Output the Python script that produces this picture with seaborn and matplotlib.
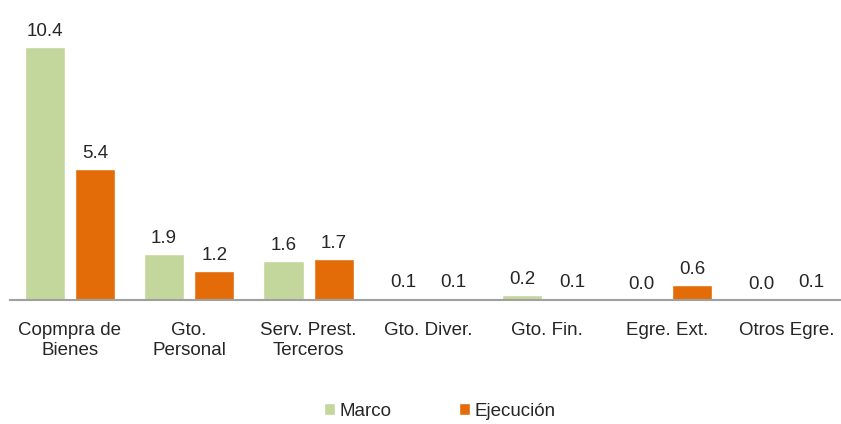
import pandas as pd
import matplotlib
matplotlib.use("Agg")
import matplotlib.pyplot as plt
import seaborn as sns

# data
categorias = ["Copmpra de\nBienes", "Gto.\nPersonal", "Serv. Prest.\nTerceros",
              "Gto. Diver.", "Gto. Fin.", "Egre. Ext.", "Otros Egre."]
marco = [10.4, 1.9, 1.6, 0.1, 0.2, 0.0, 0.0]
ejecucion = [5.4, 1.2, 1.7, 0.1, 0.1, 0.6, 0.1]
series = ["Marco", "Ejecución"]
colores = ["#C3D69B", "#E36C09"]

df = pd.DataFrame({
    "cat": categorias * 2,
    "serie": [series[0]] * len(marco) + [series[1]] * len(ejecucion),
    "valor": marco + ejecucion,
})

sns.set_style("white")
plt.rcParams["font.family"] = ["Liberation Sans", "DejaVu Sans"]

fig = plt.figure(figsize=(8.41, 4.24), dpi=100)
ax = fig.add_axes([10 / 841, 124 / 424, 836 / 841, 300 / 424])

sns.barplot(data=df, x="cat", y="valor", hue="serie", palette=colores,
            width=0.84, gap=0.2, saturation=1, ax=ax, legend=True)

for cont in ax.containers:
    ax.bar_label(cont, fmt="%.1f", padding=5, fontsize=13.5, color="#262626")

ax.set_xlim(-0.5, 6.5)
ax.set_ylim(0, 12.33)
ax.set_yticks([])
ax.set_xlabel("")
ax.set_ylabel("")
for s in ["top", "left", "right"]:
    ax.spines[s].set_visible(False)
ax.spines["bottom"].set_color("#A0A0A0")
ax.spines["bottom"].set_linewidth(1.5)
ax.tick_params(axis="x", length=0, pad=16, labelsize=13.5, labelcolor="#262626")
for t in ax.get_xticklabels():
    t.set_linespacing(1.2)

handles, labels = ax.get_legend_handles_labels()
ax.get_legend().remove()
fig.legend(handles, labels, loc="lower center", bbox_to_anchor=(0.523, -0.03),
           ncol=2, frameon=False, fontsize=13.5, handlelength=0.6, handleheight=0.6,
           handletextpad=0.25, columnspacing=3.6, labelcolor="#262626")

fig.savefig("out.png", dpi=100)
